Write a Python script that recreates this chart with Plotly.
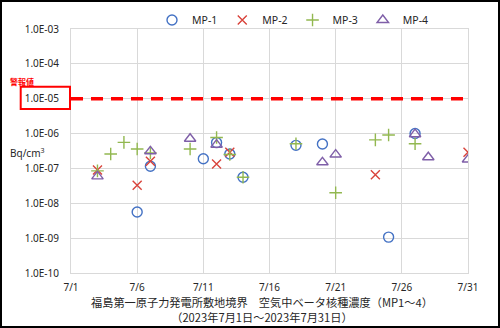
import plotly.graph_objects as go

# ---- data ----
mp1_days = [6, 7, 11, 12, 13, 14, 18, 20, 25, 27]
mp1_vals = [5.6e-9, 1.15e-7, 1.9e-7, 5.5e-7, 2.6e-7, 5.6e-8, 4.6e-7, 5.0e-7, 1.07e-9, 1.0e-6]

mp2_days = [3, 6, 7, 12, 13, 24, 31]
mp2_vals = [9.0e-8, 3.3e-8, 1.6e-7, 1.35e-7, 2.9e-7, 6.6e-8, 2.9e-7]

mp3_days = [3, 4, 5, 6, 7, 10, 12, 13, 14, 18, 21, 24, 25, 27]
mp3_vals = [8.5e-8, 2.6e-7, 5.6e-7, 3.6e-7, 2.8e-7, 3.6e-7, 7.7e-7, 2.5e-7, 5.6e-8, 5.1e-7, 2.0e-8, 6.6e-7, 9.1e-7, 5.1e-7]

mp4_days = [3, 7, 10, 12, 20, 21, 27, 28, 31]
mp4_vals = [5.9e-8, 3.1e-7, 7.1e-7, 4.8e-7, 1.5e-7, 2.5e-7, 9.6e-7, 2.1e-7, 1.8e-7]

alarm_value = 1e-5
x_tick_days = [1, 6, 11, 16, 21, 26, 31]
x_tick_labels = ["7/1", "7/6", "7/11", "7/16", "7/21", "7/26", "7/31"]
y_tick_exps = [-10, -9, -8, -7, -6, -5, -4, -3]
y_tick_labels = ["1.0E-10", "1.0E-09", "1.0E-08", "1.0E-07", "1.0E-06", "1.0E-05", "1.0E-04", "1.0E-03"]

title_line1 = "福島第一原子力発電所敷地境界　空気中ベータ核種濃度（MP1～4）"
title_line2 = "（2023年7月1日～2023年7月31日）"
unit_label = "Bq/cm<sup>3</sup>"
alarm_label = "警報値"


def d(day):
    return f"2023-07-{day:02d}"


W, H = 500, 328
ML, MR, MT, MB = 71, 32, 29, 55
PW, PH = W - ML - MR, H - MT - MB


def px(x):
    return (x - ML) / PW


def py(y):
    return (H - MB - y) / PH


FONT = "Noto Sans, Liberation Sans, sans-serif"
JFONT = "Noto Sans CJK JP"

fig = go.Figure()

# alarm line
fig.add_trace(go.Scatter(
    x=[d(1), d(31)], y=[alarm_value, alarm_value], mode="lines",
    line=dict(color="#FF0000", width=3.5, dash="12px,8px"),
    showlegend=False, hoverinfo="skip"))

series = [
    ("MP-1", mp1_days, mp1_vals, "circle-open", "#4472C4", 10),
    ("MP-2", mp2_days, mp2_vals, "x-thin-open", "#D9443C", 9),
    ("MP-3", mp3_days, mp3_vals, "cross-thin-open", "#92B850", 9),
    ("MP-4", mp4_days, mp4_vals, "triangle-up-open", "#7F5FA8", 10),
]
for name, days, vals, sym, col, sz in series:
    fig.add_trace(go.Scatter(
        x=[d(v) for v in days], y=vals, mode="markers", name=name,
        marker=dict(symbol=sym, size=sz, color=col, line=dict(color=col, width=1.4))))

fig.update_layout(
    width=W, height=H,
    margin=dict(l=ML, r=MR, t=MT, b=MB, autoexpand=False),
    paper_bgcolor="white", plot_bgcolor="white",
    font=dict(family=FONT, size=10, color="#262626"),
    legend=dict(orientation="h", x=px(152), y=py(20), xanchor="left", yanchor="middle",
                font=dict(size=10.5, family=FONT, color="#262626"),
                itemwidth=30, tracegroupgap=0, bgcolor="rgba(0,0,0,0)"),
    xaxis=dict(type="date", range=[d(1), d(31)],
               tickvals=[d(v) for v in x_tick_days], ticktext=x_tick_labels,
               showgrid=True, gridcolor="#D9D9D9", gridwidth=1,
               showline=True, linecolor="#D9D9D9", mirror=True,
               ticks="", ticklabelstandoff=5,
               tickfont=dict(size=10, family=FONT, color="#262626")),
    yaxis=dict(type="log", range=[-10, -3],
               tickvals=[10 ** e for e in y_tick_exps], ticktext=y_tick_labels,
               showgrid=True, gridcolor="#D9D9D9", gridwidth=1,
               showline=True, linecolor="#D9D9D9", mirror=True,
               ticks="", ticklabelstandoff=9,
               tickfont=dict(size=10, family=FONT, color="#262626")),
    shapes=[
        dict(type="rect", xref="paper", yref="paper",
             x0=px(20.7), x1=px(70), y0=py(109), y1=py(86.7),
             line=dict(color="#FF0000", width=2)),
        dict(type="rect", xref="paper", yref="paper",
             x0=px(1), x1=px(499), y0=py(327), y1=py(1),
             line=dict(color="black", width=2)),
    ],
    annotations=[
        dict(text=title_line1 + "<br>" + title_line2, xref="paper", yref="paper",
             x=px(262), y=py(309.5), align="center", borderpad=0,
             xanchor="center", yanchor="middle", showarrow=False,
             font=dict(family=JFONT, size=11.2, color="#262626")),
        dict(text=unit_label, xref="paper", yref="paper", x=px(8), y=py(153),
             xanchor="left", yanchor="middle", showarrow=False,
             font=dict(family=FONT, size=10, color="#262626")),
        dict(text="<b>" + alarm_label + "</b>", xref="paper", yref="paper", x=px(8), y=py(81),
             xanchor="left", yanchor="middle", showarrow=False,
             font=dict(family=JFONT, size=8, color="#FF0000")),
    ],
)

fig.write_html("out.html")
